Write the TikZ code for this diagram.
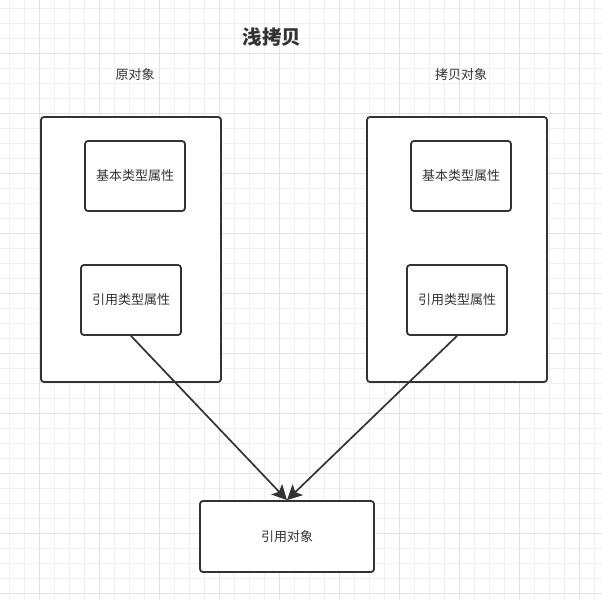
\documentclass[tikz,border=0pt]{standalone}
\usepackage{fontspec}
\newfontfamily\cjk{Noto Sans CJK SC}
\usetikzlibrary{arrows.meta}
\definecolor{ink}{HTML}{333333}
\definecolor{gridminor}{HTML}{F0F0F0}
\definecolor{gridmajor}{HTML}{E2E2E2}
\begin{document}
\begin{tikzpicture}[x=1pt,y=-1pt,
    box/.style={draw=ink, line width=1.8pt, rounded corners=3pt, fill=white,
        font=\cjk\fontsize{13}{15}\selectfont, text=ink},
    outerbox/.style={box, minimum width=180pt, minimum height=265pt},
    attrbox/.style={box, minimum width=100pt, minimum height=70pt},
    label/.style={font=\cjk\fontsize{13}{15}\selectfont, text=ink},
    link/.style={draw=ink, line width=1.7pt, -{Stealth[length=15pt,width=15pt,inset=3.5pt]}}]
    \useasboundingbox (0,0) rectangle (602,600);
    \fill[white] (0,0) rectangle (602,600);
    % background grid
    \foreach \x in {9.3,24.3,...,600} \draw[gridminor, line width=0.8pt] (\x,0) -- (\x,600);
    \foreach \y in {8.3,23.3,...,600} \draw[gridminor, line width=0.8pt] (0,\y) -- (602,\y);
    \foreach \x in {39.3,99.3,...,600} \draw[gridmajor, line width=0.9pt] (\x,0) -- (\x,600);
    \foreach \y in {53.3,113.3,...,600} \draw[gridmajor, line width=0.9pt] (0,\y) -- (602,\y);

    \node[font=\cjk\bfseries\fontsize{19.5}{22}\selectfont, text=ink] (title) at (272,37) {浅拷贝};
    \node[label] (origlabel) at (135,75) {原对象};
    \node[label] (copylabel) at (461,75) {拷贝对象};

    % original object
    \node[outerbox] (origobj) at (131,249.5) {};
    \node[attrbox] (origbasic) at (135,176) {基本类型属性};
    \node[attrbox] (origref) at (131,300) {引用类型属性};

    % copied object
    \node[outerbox] (copyobj) at (457,249.5) {};
    \node[attrbox] (copybasic) at (461,176) {基本类型属性};
    \node[attrbox] (copyref) at (457,300) {引用类型属性};

    % shared referenced object
    \node[box, minimum width=174pt, minimum height=71pt] (refobj) at (287,536.5) {引用对象};

    \draw[link] (origref.south) -- (refobj.north);
    \draw[link] (copyref.south) -- (refobj.north);
\end{tikzpicture}
\end{document}
